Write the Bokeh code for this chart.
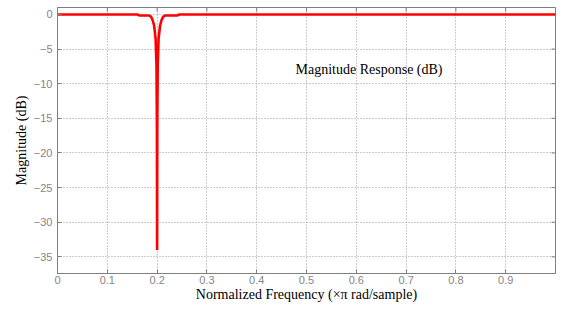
import math
from bokeh.plotting import figure
from bokeh.models import Range1d, FixedTicker, Label
from bokeh.embed import file_html
from bokeh.resources import INLINE

# Magnitude response (normalized frequency, dB)
freq = [0.0, 0.16, 0.165, 0.184, 0.188, 0.191, 0.194, 0.197, 0.1988, 0.1996,
        0.2, 0.2004, 0.2012, 0.203, 0.206, 0.209, 0.212, 0.216, 0.24, 0.245, 1.0]
mag = [0.0, 0.0, -0.15, -0.15, -0.35, -0.8, -1.6, -3.5, -7.5, -16.0,
       -34.0, -16.0, -7.5, -3.5, -1.6, -0.8, -0.35, -0.15, -0.15, 0.0, 0.0]

x_ticks = [0, 0.1, 0.2, 0.3, 0.4, 0.5, 0.6, 0.7, 0.8, 0.9]
y_ticks = [0, -5, -10, -15, -20, -25, -30, -35]
x_label = "Normalized Frequency (\u00d7\u03c0 rad/sample)"
y_label = "Magnitude (dB)"
title_text = "Magnitude Response (dB)"

AX = "#7f7f7f"
serif = "Liberation Serif"
sans = "Liberation Sans"
x0, x1 = 0.0, 1.0
y0, y1 = -37.4, 1.0

p = figure(width=557, height=304, output_backend="svg", toolbar_location=None,
           x_range=Range1d(x0, x1), y_range=Range1d(y0, y1),
           min_border_left=57, min_border_right=2, min_border_top=7, min_border_bottom=0)
p.outline_line_color = AX
p.outline_line_width = 1
p.background_fill_color = "white"
p.border_fill_color = "white"

for ax in (p.xaxis[0], p.yaxis[0]):
    ax.axis_line_color = AX
    ax.major_tick_line_color = AX
    ax.minor_tick_line_color = None
    ax.major_tick_in = 4
    ax.major_tick_out = 0
    ax.major_label_text_color = "#858585"
    ax.major_label_text_font = sans
    ax.major_label_text_font_size = "11px"
    ax.axis_label_text_font = serif
    ax.axis_label_text_font_size = "14px"
    ax.axis_label_text_font_style = "normal"
    ax.axis_label_text_color = "black"

p.xaxis.ticker = FixedTicker(ticks=x_ticks)
p.yaxis.ticker = FixedTicker(ticks=y_ticks)
p.xaxis.axis_label = x_label
p.yaxis.axis_label = y_label
p.xaxis.major_label_standoff = 2
p.xaxis.axis_label_standoff = 0
p.yaxis.major_label_standoff = 5
p.yaxis.axis_label_standoff = 2

p.xgrid.ticker = FixedTicker(ticks=x_ticks)
p.ygrid.ticker = FixedTicker(ticks=y_ticks)
for g in (p.xgrid[0], p.ygrid[0]):
    g.grid_line_color = "#9a9a9a"
    g.grid_line_dash = "1 2"
    g.grid_line_width = 1

# inward ticks on the top and right edges of the box
p.ray(x=x_ticks, y=[y1] * len(x_ticks), length=4, length_units="screen",
      angle=-math.pi / 2, line_color=AX, line_width=1)
p.ray(x=[x1] * len(y_ticks), y=y_ticks, length=4, length_units="screen",
      angle=math.pi, line_color=AX, line_width=1)

p.line(freq, mag, line_color="#ff0000", line_width=2.6)

p.add_layout(Label(x=0.478, y=-8.0, text=title_text, text_font=serif,
                   text_font_size="14px", text_color="black", text_baseline="middle"))

open("out.html", "w").write(file_html(p, INLINE))
